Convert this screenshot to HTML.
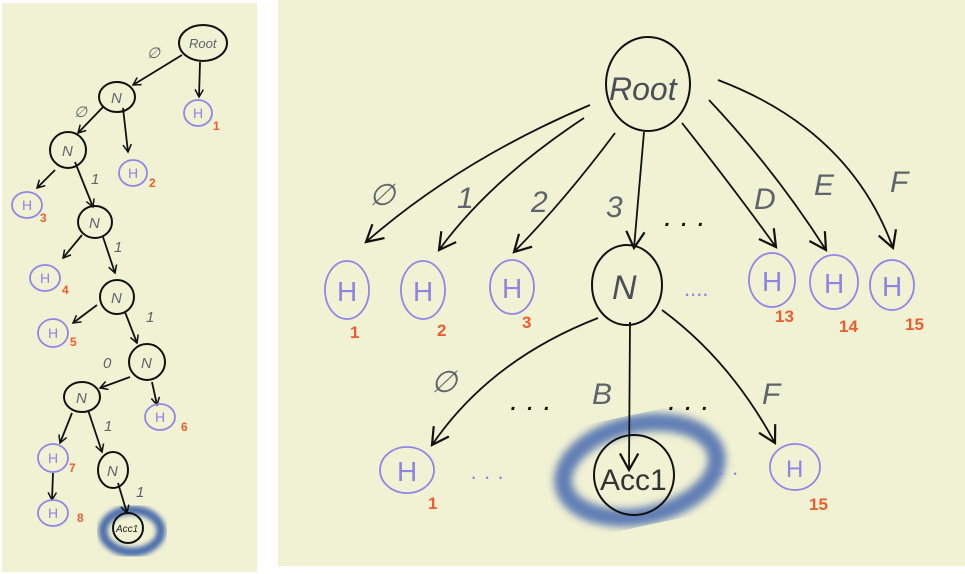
<!DOCTYPE html>
<html><head><meta charset="utf-8"><style>
html,body{margin:0;padding:0;background:#fff;width:965px;height:574px;overflow:hidden}
svg{display:block}
text{font-family:"Liberation Sans",sans-serif}
.g{fill:#5d646b;font-style:italic}
.p{fill:#8f84e6}
.o{fill:#ea5e30;font-weight:bold}
.e{fill:none;stroke:#111;stroke-width:2}
.h{fill:none;stroke:#9086e8;stroke-width:1.8}
.a{fill:none;stroke:#111;stroke-width:1.8}
</style></head><body>
<svg width="965" height="574" viewBox="0 0 965 574">
<defs>
<marker id="m" viewBox="0 0 12 12" refX="10" refY="6" markerWidth="10" markerHeight="10" markerUnits="userSpaceOnUse" orient="auto"><path d="M1,1 L10,6 L1,11" fill="none" stroke="#111" stroke-width="1.8"/></marker>
<marker id="M" viewBox="0 0 12 12" refX="10" refY="6" markerWidth="22" markerHeight="22" markerUnits="userSpaceOnUse" orient="auto"><path d="M1,1 L10,6 L1,11" fill="none" stroke="#111" stroke-width="1.2"/></marker>
<filter id="blur"><feGaussianBlur stdDeviation="4"/></filter>
<filter id="blur2"><feGaussianBlur stdDeviation="2.5"/></filter>
</defs>
<rect x="2" y="3" width="255" height="569" fill="#f1f1d3"/>
<rect x="278" y="0" width="687" height="566" fill="#f1f1d3"/>

<!-- LEFT PANEL -->
<ellipse cx="132" cy="531" rx="29" ry="21" fill="none" stroke="#3d62a8" stroke-width="9" filter="url(#blur2)" opacity=".9"/>
<g class="a" marker-end="url(#m)">
<path d="M182,55 L133,85"/><path d="M200,62 L199,97"/>
<path d="M103,107 L78,133"/><path d="M123,108 L128,152"/>
<path d="M55,170 L37,188"/><path d="M75,162 L93,207"/>
<path d="M82,235 L63,258"/><path d="M103,237 L115,273"/>
<path d="M97,305 L73,323"/><path d="M125,312 L137,343"/>
<path d="M130,377 L100,388"/><path d="M152,382 L157,405"/>
<path d="M72,413 L60,443"/><path d="M88,410 L102,452"/>
<path d="M53,473 L52,500"/><path d="M118,483 L127,513"/>
</g>
<g class="e">
<ellipse cx="203" cy="43" rx="24" ry="18"/><ellipse cx="117" cy="97" rx="18" ry="15"/>
<ellipse cx="68" cy="150" rx="18" ry="18"/><ellipse cx="95" cy="222" rx="17" ry="16"/>
<ellipse cx="117" cy="297" rx="17" ry="17"/>
<ellipse cx="147" cy="362" rx="18" ry="18"/><ellipse cx="82" cy="397" rx="18" ry="15"/>
<ellipse cx="113" cy="470" rx="15" ry="18"/><ellipse cx="128" cy="528" rx="15" ry="15"/>
</g>
<g class="h">
<ellipse cx="198" cy="113" rx="14" ry="13"/><ellipse cx="133" cy="173" rx="14" ry="13"/>
<ellipse cx="27" cy="205" rx="15" ry="13"/><ellipse cx="45" cy="278" rx="15" ry="13"/>
<ellipse cx="53" cy="333" rx="15" ry="14"/><ellipse cx="160" cy="417" rx="15" ry="13"/>
<ellipse cx="53" cy="458" rx="15" ry="14"/><ellipse cx="53" cy="513" rx="15" ry="13"/>
</g>
<g font-size="15" class="g">
<text x="189" y="48" font-size="13">Root</text>
<text x="111" y="103">N</text><text x="62" y="156">N</text><text x="89" y="228">N</text>
<text x="111" y="303">N</text><text x="141" y="368">N</text><text x="76" y="403">N</text>
<text x="107" y="476">N</text><text x="116" y="532" font-size="10" fill="#222">Acc1</text>
<text x="147" y="58">∅</text><text x="74" y="117">∅</text><text x="91" y="184">1</text>
<text x="114" y="252">1</text><text x="146" y="322">1</text><text x="103" y="368">0</text>
<text x="104" y="431">1</text><text x="136" y="497">1</text>
</g>
<g font-size="14" class="p">
<text x="193" y="118">H</text><text x="128" y="178">H</text><text x="22" y="210">H</text>
<text x="40" y="283">H</text><text x="48" y="338">H</text><text x="155" y="422">H</text>
<text x="48" y="463">H</text><text x="48" y="518">H</text>
</g>
<g font-size="12" class="o">
<text x="213" y="130">1</text><text x="149" y="187">2</text><text x="40" y="222">3</text>
<text x="62" y="294">4</text><text x="70" y="346">5</text><text x="181" y="431">6</text>
<text x="69" y="472">7</text><text x="77" y="522">8</text>
</g>

<!-- RIGHT PANEL -->
<ellipse cx="640" cy="470" rx="78" ry="46" transform="rotate(-12 640 470)" fill="none" stroke="#4a6cb0" stroke-width="18" filter="url(#blur)" opacity=".85"/>
<g class="a" marker-end="url(#M)">
<path d="M590,105 Q460,160 366,242"/>
<path d="M584,118 Q490,180 439,250"/>
<path d="M615,133 Q565,200 514,252"/>
<path d="M644,132 L634,248"/>
<path d="M682,123 Q735,190 776,247"/>
<path d="M709,100 Q775,170 826,250"/>
<path d="M718,80 Q850,130 893,248"/>
<path d="M598,318 Q490,360 432,445"/>
<path d="M630,322 L629,470"/>
<path d="M662,310 Q730,360 775,443"/>
</g>
<g class="e">
<ellipse cx="648" cy="84" rx="42" ry="47"/>
<ellipse cx="627" cy="285" rx="35" ry="40"/>
<ellipse cx="634" cy="475" rx="40" ry="40"/>
</g>
<g class="h">
<ellipse cx="347" cy="290" rx="22" ry="29"/><ellipse cx="423" cy="290" rx="22" ry="29"/>
<ellipse cx="512" cy="287" rx="22" ry="27"/><ellipse cx="772" cy="280" rx="23" ry="27"/>
<ellipse cx="834" cy="282" rx="24" ry="27"/><ellipse cx="892" cy="285" rx="22" ry="25"/>
<ellipse cx="407" cy="470" rx="27" ry="23"/><ellipse cx="795" cy="467" rx="25" ry="23"/>
</g>
<g class="g" font-size="30">
<text x="609" y="100" fill="#4a5056" font-size="32">Root</text>
<text x="612" y="299" font-size="34" fill="#4a5056">N</text>
<text x="600" y="490" fill="#333" font-style="normal">Acc1</text>
<text x="369" y="205">∅</text><text x="457" y="208">1</text><text x="531" y="212">2</text>
<text x="606" y="217">3</text><text x="754" y="209">D</text><text x="814" y="195">E</text>
<text x="890" y="192">F</text>
<text x="431" y="392">∅</text><text x="592" y="404">B</text><text x="762" y="404">F</text>
<text x="664" y="226" fill="#111">. . .</text>
<text x="510" y="410" fill="#111">. . .</text>
<text x="668" y="410" fill="#111">. . .</text>
</g>
<g class="p" font-size="28">
<text x="337" y="301">H</text><text x="413" y="301">H</text><text x="502" y="298">H</text>
<text x="762" y="291">H</text><text x="824" y="293">H</text><text x="882" y="296">H</text>
<text x="397" y="481">H</text><text x="786" y="477" font-size="24">H</text>
<text x="684" y="296" font-size="22">....</text>
<text x="470" y="484" font-size="22">·   ·   ·</text>
<text x="718" y="480" font-size="22">·   ·</text>
</g>
<g class="o" font-size="17">
<text x="350" y="338">1</text><text x="437" y="336">2</text><text x="522" y="328">3</text>
<text x="775" y="322">13</text><text x="839" y="332">14</text><text x="905" y="330">15</text>
<text x="428" y="509">1</text><text x="809" y="510">15</text>
</g>
</svg>
</body></html>
